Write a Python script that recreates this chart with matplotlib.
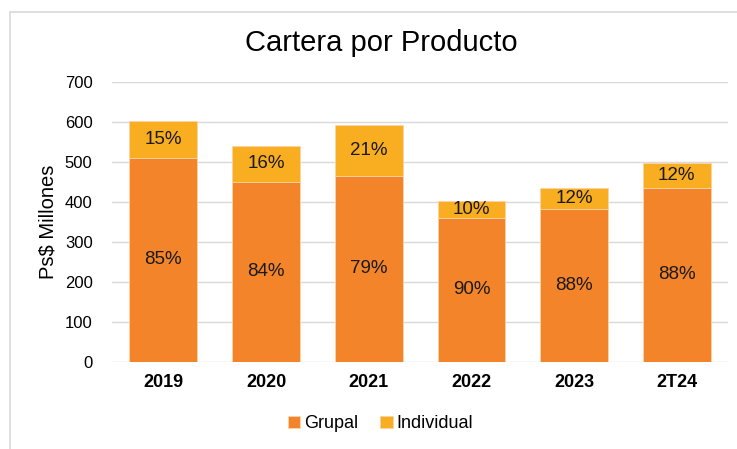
import matplotlib.pyplot as plt
from matplotlib.patches import Rectangle

# ----- data -----
years = ['2019', '2020', '2021', '2022', '2023', '2T24']
grupal = [511, 451, 466, 361, 383, 436]
individual = [92, 89, 127, 42, 51, 61]
pct_grupal = ['85%', '84%', '79%', '90%', '88%', '88%']
pct_individual = ['15%', '16%', '21%', '10%', '12%', '12%']

plt.rcParams['font.family'] = ['Liberation Sans', 'DejaVu Sans']

col_grupal = '#F4842A'
col_indiv = '#F9AD21'

fig = plt.figure(figsize=(7.37, 4.49), dpi=100)
ax = fig.add_axes([0.152, 0.194, 0.836, 0.623])

# light frame around the chart area
fig.patches.append(Rectangle((10/737, -0.1), 1.2, 1.1 - 12/449, transform=fig.transFigure,
                             fill=False, edgecolor='#D9D9D9', linewidth=1.2))

x = range(len(years))
b1 = ax.bar(x, grupal, width=0.66, color=col_grupal, edgecolor='#FBD3A8', linewidth=0.6,
            label='Grupal', zorder=2)
b2 = ax.bar(x, individual, width=0.66, bottom=grupal, color=col_indiv, edgecolor='#FBD3A8',
            linewidth=0.6, label='Individual', zorder=2)

ax.bar_label(b1, labels=pct_grupal, label_type='center', fontsize=13.5, color='#1a1a1a')
ax.bar_label(b2, labels=pct_individual, label_type='center', fontsize=13.5, color='#1a1a1a')

ax.set_xlim(-0.5, 5.5)
ax.set_ylim(0, 700)
ax.set_yticks(range(0, 701, 100))
ax.set_xticks(list(x))
ax.set_xticklabels(years, fontsize=13, fontweight='bold')
ax.tick_params(axis='y', labelsize=12, length=0, pad=14)
ax.tick_params(axis='x', length=0, pad=9)
ax.grid(axis='y', color='#D9D9D9', linewidth=1, zorder=0)
ax.set_axisbelow(True)
for s in ax.spines.values():
    s.set_visible(False)

ax.set_ylabel('Ps$ Millones', fontsize=14.5, labelpad=5)

fig.text(0.518, 0.905, 'Cartera por Producto', ha='center', va='center', fontsize=21)

fig.legend(handles=[b1, b2], loc='center', bbox_to_anchor=(0.516, 0.056), ncol=2,
           frameon=False, fontsize=13, handlelength=0.7, handleheight=0.7,
           handletextpad=0.2, columnspacing=1.2)

fig.savefig('out.png', dpi=100)
